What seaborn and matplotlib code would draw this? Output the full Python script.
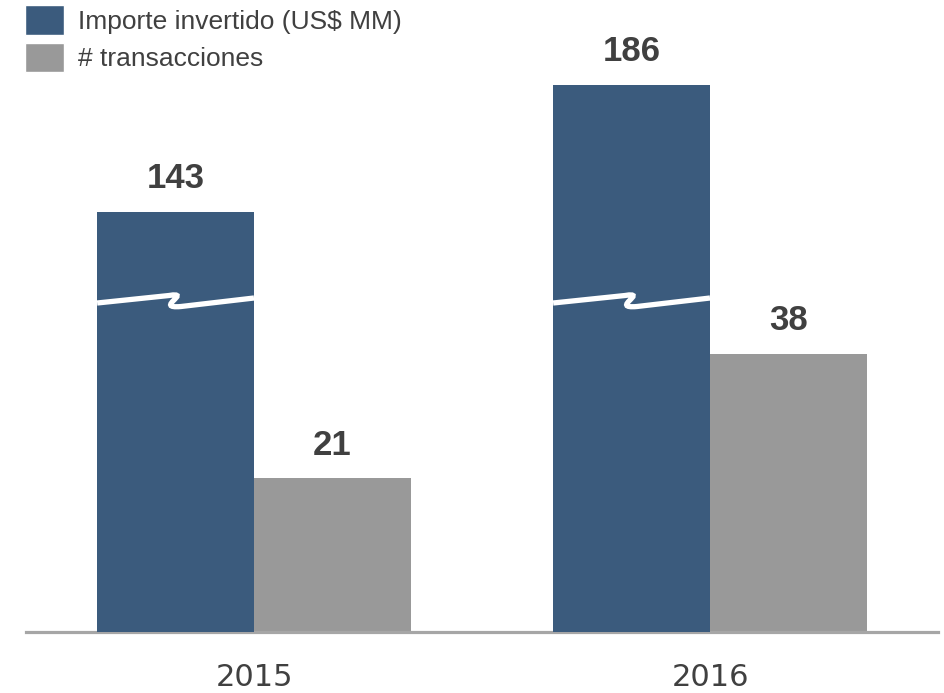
import matplotlib
matplotlib.use('Agg')
import matplotlib.pyplot as plt
from matplotlib.path import Path
from matplotlib.patches import PathPatch, Patch
import pandas as pd
import seaborn as sns

years = ['2015', '2016']
series = ['Importe invertido (US$ MM)', '# transacciones']
importe = [143, 186]
transacciones = [21, 38]
colors = ['#3B5B7D', '#999999']
text_color = '#404040'

df = pd.DataFrame({
    'year': years * 2,
    'serie': [series[0]] * 2 + [series[1]] * 2,
    'valor': importe + transacciones,
})

sns.set_style('white')
plt.rcParams['font.family'] = ['Liberation Sans', 'DejaVu Sans']

W, H = 944, 693
fig = plt.figure(figsize=(W / 100, H / 100), dpi=100)
ax = fig.add_axes([26 / W, 61 / H, 912 / W, 632 / H])
ax2 = ax.twinx()

# both series are dodged the same way on two axes; each axis keeps only its own series
# (gray on the left scale, blue on its own broken scale)
for a in (ax, ax2):
    sns.barplot(data=df, x='year', y='valor', hue='serie', hue_order=series,
                order=years, palette=colors, width=0.688, saturation=1,
                errorbar=None, legend=False, linewidth=0, ax=a)

ax.set_xlim(-0.5, 1.5)
ax.set_ylim(0, 632 / 7.32)
ax2.set_ylim(0, 632 / 2.94)

for p in ax.containers[0]:
    p.set_visible(False)
for p in ax2.containers[1]:
    p.set_visible(False)

for a in (ax, ax2):
    a.set_xlabel('')
    a.set_ylabel('')
    a.set_yticks([])
    for s in ['top', 'left', 'right']:
        a.spines[s].set_visible(False)
ax2.spines['bottom'].set_visible(False)
ax.spines['bottom'].set_color('#A6A6A6')
ax.spines['bottom'].set_linewidth(2.3)
ax.tick_params(axis='x', length=0, pad=22, labelsize=22, labelcolor=text_color)
for t in ax.get_xticklabels():
    t.set_family('DejaVu Sans')

ax.bar_label(ax.containers[1], padding=12, fontsize=25, fontweight='bold', color=text_color)
ax2.bar_label(ax2.containers[0], padding=12, fontsize=25, fontweight='bold', color=text_color)

# break marks on the blue bars
px_y2 = 632 / ax2.get_ylim()[1]
shape = [(0, 303), (72, 295.5), (96, 291.5), (56, 309), (84, 306.5), (157, 298)]
codes = [Path.MOVETO, Path.LINETO, Path.CURVE4, Path.CURVE4, Path.CURVE4, Path.LINETO]
for p in ax2.containers[0]:
    left = p.get_x()
    w = p.get_width()
    verts = [(left + dx / 157 * w, (632 - yy) / px_y2) for dx, yy in shape]
    ax2.add_patch(PathPatch(Path(verts, codes), facecolor='none',
                            edgecolor='white', lw=3.8, capstyle='butt'))

handles = [Patch(facecolor=c, label=s) for c, s in zip(colors, series)]
ax2.legend(handles=handles, loc='upper left', bbox_to_anchor=(25 / W, 1 - 5 / H),
           bbox_transform=fig.transFigure, frameon=False, fontsize=19,
           handlelength=1.48, handleheight=1.35, handletextpad=0.53,
           labelspacing=0.3, borderpad=0, borderaxespad=0, labelcolor=text_color)

fig.savefig('out.png', dpi=100)
